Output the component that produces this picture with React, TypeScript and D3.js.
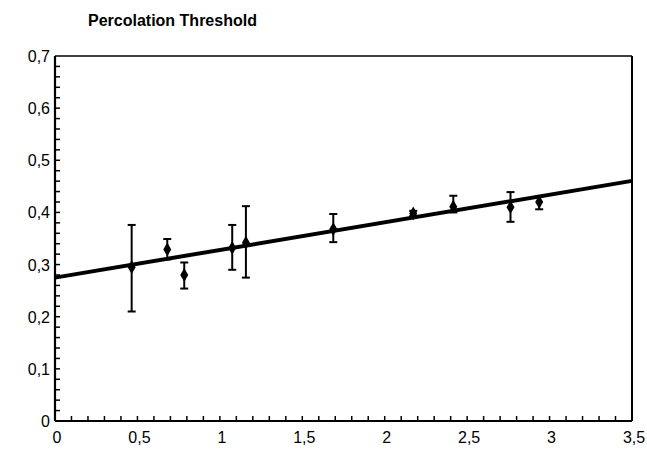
import React from "react";
import * as d3 from "d3";

const xs = [0.465, 0.681, 0.784, 1.075, 1.158, 1.688, 2.173, 2.416, 2.763, 2.937];
const ys = [0.295, 0.329, 0.28, 0.332, 0.342, 0.368, 0.398, 0.411, 0.41, 0.42];
const errLow = [0.21, 0.31, 0.254, 0.29, 0.275, 0.343, 0.393, 0.4, 0.382, 0.406];
const errHigh = [0.376, 0.349, 0.304, 0.376, 0.412, 0.397, 0.403, 0.432, 0.439, 0.43];
const fitIntercept = 0.275;
const fitSlope = 0.053;
const xTickLabels = ["0", "0,5", "1", "1,5", "2", "2,5", "3", "3,5"];
const xTickValues = [0, 0.5, 1, 1.5, 2, 2.5, 3, 3.5];
const yTickLabels = ["0", "0,1", "0,2", "0,3", "0,4", "0,5", "0,6", "0,7"];
const yTickValues = [0, 0.1, 0.2, 0.3, 0.4, 0.5, 0.6, 0.7];
const title = "Percolation Threshold";

export default function App() {
  const W = 647, H = 460;
  const x = d3.scaleLinear().domain([0, 3.5]).range([55, 632]);
  const y = d3.scaleLinear().domain([0, 0.7]).range([421, 56]);
  const font = "'Liberation Sans', Arial, sans-serif";

  const xMinor = d3.range(1, 35).map((i) => i / 10);
  const yMinor = d3.range(1, 35).map((i) => i / 50);
  const diamond = d3.symbol().type(d3.symbolDiamond).size(55)();
  const fit = d3.line<number>().x((v) => x(v)).y((v) => y(fitIntercept + fitSlope * v));

  return (
    <svg width={W} height={H} style={{ position: "absolute", left: 0, top: 0, background: "#fff" }}>
      <text x={88} y={26} fontFamily={font} fontWeight="bold" fontSize={16} fill="#000">{title}</text>
      {/* frame */}
      <line x1={x(0)} x2={x(3.5)} y1={y(0.7)} y2={y(0.7)} stroke="#000" strokeWidth={1.6} />
      <line x1={x(3.5)} x2={x(3.5)} y1={y(0.7)} y2={y(0)} stroke="#000" strokeWidth={2} />
      <line x1={x(0)} x2={x(3.5)} y1={y(0)} y2={y(0)} stroke="#000" strokeWidth={2} />
      <line x1={x(0)} x2={x(0)} y1={y(0.7)} y2={y(0)} stroke="#000" strokeWidth={2.2} />
      {/* minor ticks */}
      {xMinor.map((v, i) => (
        <line key={"xm" + i} x1={x(v)} x2={x(v)} y1={y(0)} y2={y(0) - 5} stroke="#000" strokeWidth={1.5} />
      ))}
      {yMinor.map((v, i) => (
        <line key={"ym" + i} x1={x(0)} x2={x(0) + 5} y1={y(v)} y2={y(v)} stroke="#000" strokeWidth={1.5} />
      ))}
      {/* tick labels */}
      {xTickValues.map((v, i) => (
        <text key={"xl" + i} x={x(v) + 2} y={443} textAnchor="middle" fontFamily={font} fontSize={16} fill="#000">{xTickLabels[i]}</text>
      ))}
      {yTickValues.map((v, i) => (
        <text key={"yl" + i} x={50} y={y(v) + 6} textAnchor="end" fontFamily={font} fontSize={16} fill="#000">{yTickLabels[i]}</text>
      ))}
      {/* fit line */}
      <path d={fit([0, 3.5]) || ""} stroke="#000" strokeWidth={4} fill="none" />
      {/* error bars */}
      {xs.map((v, i) => (
        <g key={"e" + i}>
          <line x1={x(v)} x2={x(v)} y1={y(errLow[i])} y2={y(errHigh[i])} stroke="#000" strokeWidth={2} />
          <line x1={x(v) - 4} x2={x(v) + 4} y1={y(errLow[i])} y2={y(errLow[i])} stroke="#000" strokeWidth={2} />
          <line x1={x(v) - 4} x2={x(v) + 4} y1={y(errHigh[i])} y2={y(errHigh[i])} stroke="#000" strokeWidth={2} />
          <path d={diamond || ""} transform={`translate(${x(v)},${y(ys[i])})`} fill="#000" />
        </g>
      ))}
    </svg>
  );
}
